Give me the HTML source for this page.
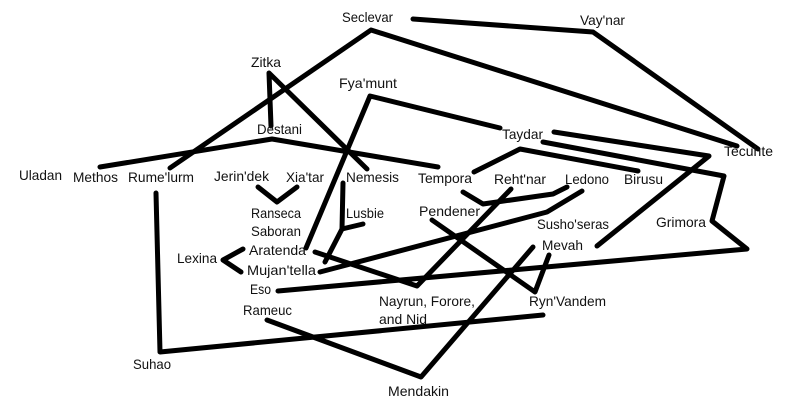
<!DOCTYPE html>
<html><head><meta charset="utf-8"><style>
html,body{margin:0;padding:0;background:#fff;}
svg{display:block;}
text{font-family:"Liberation Sans",sans-serif;font-size:14px;fill:#111;}
</style></head><body>
<svg width="790" height="417" viewBox="0 0 790 417" xmlns="http://www.w3.org/2000/svg">
<rect width="790" height="417" fill="#fff"/>
<g fill="none" stroke="#000" stroke-width="5" stroke-linecap="round" stroke-linejoin="round">
<polyline points="170,168 371,30 737,146"/>
<polyline points="413,19 593,32 758,149"/>
<polyline points="271,126 269,73 367,169"/>
<polyline points="100,167 272,139 438,167"/>
<polyline points="500,128 370,96 306,248"/>
<polyline points="343,183 342,229 363,224"/>
<polyline points="342,229 325,262"/>
<polyline points="258,187 277,202 297,187"/>
<polyline points="156,193 160,352 543,315"/>
<polyline points="243,249 223,260 241,272"/>
<polyline points="315,252 417,286 511,189"/>
<polyline points="463,192 483,204 553,194 567,187"/>
<polyline points="320,272 547,212 582,191"/>
<polyline points="432,220 535,292 549,255"/>
<polyline points="267,320 421,377 533,247"/>
<polyline points="543,142 724,176 712,221 747,249 278,291"/>
<polyline points="554,132 709,156 597,246"/>
<polyline points="474,172 520,149 638,171"/>
</g>
<text x="342" y="22" textLength="51" lengthAdjust="spacingAndGlyphs">Seclevar</text>
<text x="580" y="25" textLength="45" lengthAdjust="spacingAndGlyphs">Vay'nar</text>
<text x="251" y="67" textLength="30" lengthAdjust="spacingAndGlyphs">Zitka</text>
<text x="339" y="88" textLength="58" lengthAdjust="spacingAndGlyphs">Fya'munt</text>
<text x="257" y="134" textLength="45" lengthAdjust="spacingAndGlyphs">Destani</text>
<text x="502" y="139" textLength="41" lengthAdjust="spacingAndGlyphs">Taydar</text>
<text x="724" y="156" textLength="49" lengthAdjust="spacingAndGlyphs">Tecuhte</text>
<text x="19" y="180" textLength="43" lengthAdjust="spacingAndGlyphs">Uladan</text>
<text x="73" y="182" textLength="45" lengthAdjust="spacingAndGlyphs">Methos</text>
<text x="128" y="182" textLength="66" lengthAdjust="spacingAndGlyphs">Rume'lurm</text>
<text x="214" y="181" textLength="55" lengthAdjust="spacingAndGlyphs">Jerin'dek</text>
<text x="286" y="182" textLength="38" lengthAdjust="spacingAndGlyphs">Xia'tar</text>
<text x="346" y="182" textLength="53" lengthAdjust="spacingAndGlyphs">Nemesis</text>
<text x="418" y="183" textLength="54" lengthAdjust="spacingAndGlyphs">Tempora</text>
<text x="494" y="184" textLength="52" lengthAdjust="spacingAndGlyphs">Reht'nar</text>
<text x="565" y="184" textLength="44" lengthAdjust="spacingAndGlyphs">Ledono</text>
<text x="624" y="184" textLength="39" lengthAdjust="spacingAndGlyphs">Birusu</text>
<text x="251" y="218" textLength="50" lengthAdjust="spacingAndGlyphs">Ranseca</text>
<text x="251" y="236" textLength="50" lengthAdjust="spacingAndGlyphs">Saboran</text>
<text x="249" y="255" textLength="57" lengthAdjust="spacingAndGlyphs">Aratenda</text>
<text x="177" y="263" textLength="40" lengthAdjust="spacingAndGlyphs">Lexina</text>
<text x="247" y="275" textLength="69" lengthAdjust="spacingAndGlyphs">Mujan'tella</text>
<text x="250" y="294" textLength="21" lengthAdjust="spacingAndGlyphs">Eso</text>
<text x="243" y="315" textLength="49" lengthAdjust="spacingAndGlyphs">Rameuc</text>
<text x="133" y="369" textLength="38" lengthAdjust="spacingAndGlyphs">Suhao</text>
<text x="346" y="218" textLength="38" lengthAdjust="spacingAndGlyphs">Lusbie</text>
<text x="419" y="216" textLength="61" lengthAdjust="spacingAndGlyphs">Pendener</text>
<text x="537" y="229" textLength="72" lengthAdjust="spacingAndGlyphs">Susho'seras</text>
<text x="542" y="250" textLength="41" lengthAdjust="spacingAndGlyphs">Mevah</text>
<text x="656" y="227" textLength="50" lengthAdjust="spacingAndGlyphs">Grimora</text>
<text x="379" y="306" textLength="96" lengthAdjust="spacingAndGlyphs">Nayrun, Forore,</text>
<text x="379" y="324" textLength="48" lengthAdjust="spacingAndGlyphs">and Nid</text>
<text x="529" y="306" textLength="77" lengthAdjust="spacingAndGlyphs">Ryn'Vandem</text>
<text x="388" y="396" textLength="61" lengthAdjust="spacingAndGlyphs">Mendakin</text>
</svg>
</body></html>
